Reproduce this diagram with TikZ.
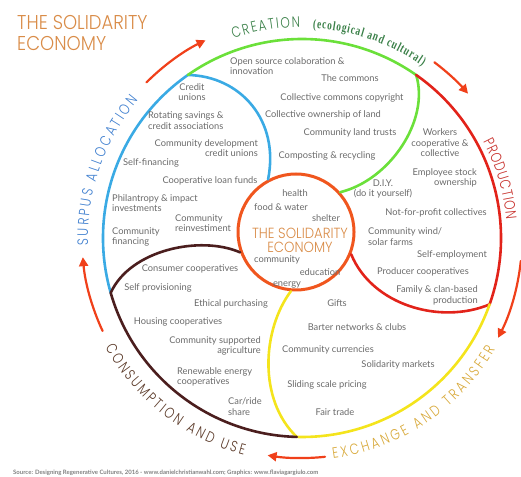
\documentclass[tikz,border=0pt]{standalone}
\usepackage{fontspec}
\setmainfont{Lato}
\IfFontExistsTF{Poppins Light}{%
  \newfontfamily\sketchfont[FakeStretch=0.9]{Poppins Light}
  \newfontfamily\ringfont[FakeStretch=0.8]{Poppins Light}}{%
  \newfontfamily\sketchfont[FakeStretch=0.9]{Poppins}
  \newfontfamily\ringfont[FakeStretch=0.8]{Poppins}}
\newfontfamily\bookfont[FakeStretch=0.72]{Liberation Serif}
\usetikzlibrary{arrows.meta,decorations.text}
\newcommand{\catfont}{\ringfont\fontsize{15}{15}\selectfont}
\definecolor{itemgray}{HTML}{6A6A6A}
\definecolor{allocblue}{HTML}{3AAAE4}
\definecolor{alloctext}{HTML}{3F7FCF}
\definecolor{creategreen}{HTML}{6BE03A}
\definecolor{createtext}{HTML}{3A8048}
\definecolor{prodred}{HTML}{E2231A}
\definecolor{prodtext}{HTML}{C8332E}
\definecolor{exchyellow}{HTML}{F4E41C}
\definecolor{exchtext}{HTML}{D8A93A}
\definecolor{consbrown}{HTML}{4B1E1E}
\definecolor{constext}{HTML}{5C3B2A}
\definecolor{coreorange}{HTML}{F0561E}
\definecolor{titleorange}{HTML}{D98C48}
\definecolor{arrowred}{HTML}{F0401A}
\tikzset{
  item/.style={text=itemgray, font=\fontsize{9.3}{10.5}\selectfont, inner sep=0pt, align=center},
  petal/.style={line width=2.6pt, line cap=round, line join=round},
  cyclearrow/.style={draw=arrowred, line width=2.2pt, line cap=round, -{Triangle[length=9pt,width=9pt]}},
  ringtext/.style={decorate, decoration={text along path, text align={fit to path}, text color=#1}},
}

\begin{document}
\begin{tikzpicture}[x=1pt,y=1pt]
\useasboundingbox (0,0) rectangle (521,476);
\coordinate(hub) at (302,238);
\node(core) at (296,244)[shape=circle, draw=coreorange, line width=3pt, minimum size=116pt, inner sep=0pt] {};

% petals: outer arc, then the inner edge back to the core
\draw[petal, allocblue] ([shift={(196:199)}]hub) arc[start angle=196, end angle=125, radius=199]
  .. controls (240,400) and (280,356) .. (core.118);
\draw[petal, creategreen] ([shift={(125:199)}]hub) arc[start angle=125, end angle=55, radius=199]
  .. controls (430,356) and (390,296) .. (core.42);
\draw[petal, prodred] ([shift={(55:199)}]hub) arc[start angle=55, end angle=-19.5, radius=199]
  .. controls (440,151) and (372,171) .. (core.-22);
\draw[petal, exchyellow] ([shift={(-19.5:199)}]hub) arc[start angle=-19.5, end angle=-91.5, radius=199]
  .. controls (258,76) and (262,146) .. (core.-95);
\draw[petal, consbrown] ([shift={(-91.5:199)}]hub) arc[start angle=-91.5, end angle=-164, radius=199]
  .. controls (130,226) and (200,241) .. (core.200);

% cycle arrows
\draw[cyclearrow] ([shift={(135:220)}]hub) arc[start angle=135, end angle=116, radius=220];
\draw[cyclearrow] ([shift={(53:220)}]hub) arc[start angle=53, end angle=41, radius=220];
\draw[cyclearrow] ([shift={(-6:220)}]hub) arc[start angle=-6, end angle=-27, radius=220];
\draw[cyclearrow] ([shift={(-84:220)}]hub) arc[start angle=-84, end angle=-99, radius=220];
\draw[cyclearrow] ([shift={(205:220)}]hub) arc[start angle=205, end angle=185, radius=220];

% ring labels
\path[ringtext=alloctext, decoration={text={|\catfont|SURPUS ALLOCATION}}]
  ([shift={(182:214)}]hub) arc[start angle=182, end angle=140, radius=214];
\path[ringtext=createtext, decoration={text={|\catfont|CREATION}}]
  ([shift={(109:211)}]hub) arc[start angle=109, end angle=90.5, radius=211];
\path[ringtext=createtext, decoration={text={|\bookfont\bfseries\fontsize{13}{13}\selectfont|(ecological and cultural)}}]
  ([shift={(87:210)}]hub) arc[start angle=87, end angle=55, radius=210];
\path[ringtext=prodtext, decoration={text={|\catfont|PRODUCTION}}]
  ([shift={(28:205)}]hub) arc[start angle=28, end angle=5, radius=205];
\path[ringtext=exchtext, decoration={text={|\catfont|EXCHANGE AND TRANSFER}}]
  ([shift={(-82:223)}]hub) arc[start angle=-82, end angle=-30, radius=223];
\path[ringtext=constext, decoration={text={|\catfont|CONSUMPTION AND USE}}]
  ([shift={(209:225)}]hub) arc[start angle=209, end angle=255, radius=225];

\node(title) at (17,443)[anchor=west, align=left, inner sep=0pt, text=titleorange, font=\sketchfont\fontsize{20}{20.5}\selectfont] {THE SOLIDARITY\\ECONOMY};
\node(source) at (13,3)[anchor=west, inner sep=0pt, text=itemgray!85, font=\bfseries\fontsize{6}{6}\selectfont] {Source: Designing Regenerative Cultures, 2016 - www.danielchristianwahl.com; Graphics: www.flaviagargiulo.com};

% surplus allocation
\node(credit) at (192,384)[item] {Credit\\unions};
\node(rotating) at (148,355.5)[item, anchor=west, align=left] {Rotating savings \&\\credit associations};
\node(cdcu) at (258,328)[item, anchor=east, align=right] {Community development\\credit unions};
\node(selffin) at (123,313)[item, anchor=west] {Self-financing};
\node(loanfunds) at (210,295)[item] {Cooperative loan funds};
\node(philan) at (112,273)[item, anchor=west, align=left] {Philantropy \& impact\\investments};
\node(reinvest) at (175,253)[item, anchor=west, align=left] {Community\\reinvestiment};
\node(commfin) at (112,239)[item, anchor=west, align=left] {Community\\financing};

% creation
\node(opensource) at (230,410)[item, anchor=west, align=left] {Open source colaboration \&\\innovation};
\node(commons) at (350,398)[item] {The commons};
\node(copyright) at (342,378)[item] {Collective commons copyright};
\node(ownership) at (323,361)[item] {Collective ownership of land};
\node(landtrusts) at (350,343)[item] {Community land trusts};
\node(composting) at (327,320)[item] {Composting \& recycling};

% production
\node(workers) at (440,333)[item] {Workers\\cooperative \&\\collective};
\node(employee) at (477,298)[item, anchor=east, align=right] {Employee stock\\ownership};
\node(diy) at (383,287)[item] {D.I.Y.\\(do it yourself)};
\node(nonprofit) at (436,263)[item] {Not-for-profit collectives};
\node(wind) at (368,239.5)[item, anchor=west, align=left] {Community wind/\\solar farms};
\node(selfemp) at (452,221)[item] {Self-employment};
\node(producer) at (423,204)[item] {Producer cooperatives};
\node(family) at (478,180.5)[item, anchor=east, align=right] {Family \& clan-based\\production};

% core needs
\node(health) at (295,283)[item] {health};
\node(food) at (281,269)[item] {food \& water};
\node(shelter) at (326,258)[item] {shelter};
\node(hubtitle) at (300,236)[align=center, inner sep=0pt, text=titleorange, font=\sketchfont\fontsize{14.7}{14}\selectfont] {THE SOLIDARITY\\ECONOMY};
\node(community) at (277,216)[item] {community};
\node(education) at (320,204)[item] {education};
\node(energy) at (287,191)[item] {energy};

% exchange and transfer
\node(gifts) at (337,173)[item] {Gifts};
\node(barter) at (357,149)[item] {Barter networks \& clubs};
\node(currencies) at (328,126)[item] {Community currencies};
\node(markets) at (398,111)[item] {Solidarity markets};
\node(sliding) at (327,91)[item] {Sliding scale pricing};
\node(fairtrade) at (335,64)[item] {Fair trade};

% consumption and use
\node(consumer) at (190,207)[item] {Consumer cooperatives};
\node(provision) at (158,188)[item] {Self provisioning};
\node(ethical) at (231,172)[item] {Ethical purchasing};
\node(housing) at (178,154)[item] {Housing cooperatives};
\node(csa) at (261,130)[item, anchor=east, align=right] {Community supported\\agriculture};
\node(renewable) at (177,99)[item, anchor=west, align=left] {Renewable energy\\cooperatives};
\node(carshare) at (228,69.5)[item, anchor=west, align=left] {Car/ride\\share};
\end{tikzpicture}
\end{document}
